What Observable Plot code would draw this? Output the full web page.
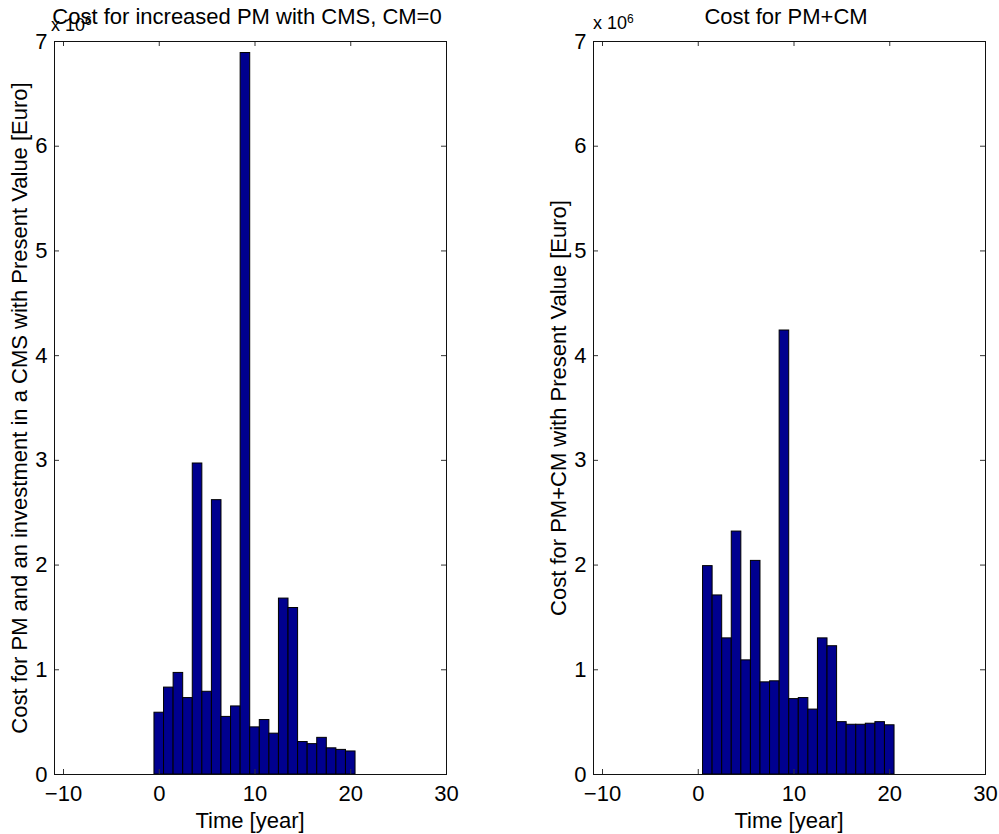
<!DOCTYPE html>
<html>
<head>
<meta charset="utf-8">
<script src="https://cdn.jsdelivr.net/npm/d3@7"></script>
<script src="https://cdn.jsdelivr.net/npm/@observablehq/plot@0.6"></script>
<style>
  html, body { margin: 0; padding: 0; background: #fff; }
  #wrap { position: relative; width: 999px; height: 834px; overflow: hidden; font-family: "Liberation Sans", Arial, sans-serif; color: #000; }
  .abs { position: absolute; white-space: nowrap; font-size: 22px; line-height: 1; }
  .plot { position: absolute; top: 0; }
</style>
</head>
<body>
<div id="wrap"></div>
<script>
// ---- data ----
const leftYears = [0,1,2,3,4,5,6,7,8,9,10,11,12,13,14,15,16,17,18,19,20];
const leftCost = [0.59e6,0.83e6,0.97e6,0.73e6,2.97e6,0.79e6,2.62e6,0.55e6,0.65e6,6.89e6,0.45e6,0.52e6,0.39e6,1.68e6,1.59e6,0.31e6,0.29e6,0.35e6,0.25e6,0.235e6,0.22e6];
const rightYears = [1,2,3,4,5,6,7,8,9,10,11,12,13,14,15,16,17,18,19,20];
const rightCost = [1.99e6,1.71e6,1.30e6,2.32e6,1.09e6,2.04e6,0.88e6,0.89e6,4.24e6,0.72e6,0.73e6,0.62e6,1.30e6,1.225e6,0.50e6,0.475e6,0.475e6,0.485e6,0.50e6,0.47e6];
const xTicks = [-10, 0, 10, 20, 30];
const yTicks = [0,1,2,3,4,5,6,7].map(v => v * 1e6);
const xDomain = [-10.94, 30];
const yDomain = [0, 7e6];
const titles = ["Cost for increased PM with CMS, CM=0", "Cost for PM+CM"];
const yLabels = ["Cost for PM and an investment in a CMS with Present Value [Euro]", "Cost for PM+CM with Present Value [Euro]"];
const xLabel = "Time [year]";

const barColor = "#00008f";
const M = {top: 41, bottom: 60, left: 54};
const frameW = 392, H = 834;
const frameH = H - M.top - M.bottom;
const tickLen = 5;
const FONT = '"Liberation Sans", Arial, sans-serif';

function panel(years, cost, svgLeft, marginRight) {
  const data = years.map((y, i) => ({year: y, cost: cost[i]}));
  const width = M.left + frameW + marginRight;
  const p = Plot.plot({
    width, height: H,
    marginTop: M.top, marginBottom: M.bottom, marginLeft: M.left, marginRight,
    style: {fontFamily: FONT, fontSize: "22px", color: "#000", background: "transparent", overflow: "visible"},
    x: {domain: xDomain, ticks: xTicks},
    y: {domain: yDomain, ticks: yTicks},
    marks: [
      Plot.rectY(data, {x1: d => d.year - 0.5, x2: d => d.year + 0.5, y: "cost", fill: barColor, stroke: "#000", strokeWidth: 1}),
      Plot.tickX(xTicks, {x: d => d, insetTop: frameH - tickLen, stroke: "#333"}),
      Plot.tickX(xTicks, {x: d => d, insetBottom: frameH - tickLen, stroke: "#333"}),
      Plot.tickY(yTicks, {y: d => d, insetRight: frameW - tickLen, stroke: "#333"}),
      Plot.tickY(yTicks, {y: d => d, insetLeft: frameW - tickLen, stroke: "#333"}),
      Plot.axisX(xTicks, {tickSize: 0, tickPadding: 11, label: null, fontSize: 22}),
      Plot.axisY(yTicks, {tickSize: 0, tickPadding: 7, label: null, fontSize: 22, tickFormat: d => String(d / 1e6)}),
      Plot.frame({stroke: "#111", strokeWidth: 1})
    ]
  });
  p.classList.add("plot");
  p.style.left = svgLeft + "px";
  return p;
}

const wrap = document.getElementById("wrap");
wrap.appendChild(panel(leftYears, leftCost, 0, 54));
wrap.appendChild(panel(rightYears, rightCost, 539, 14));

function addText(txt, css, html) {
  const d = document.createElement("div");
  d.className = "abs";
  if (html) d.innerHTML = txt; else d.textContent = txt;
  Object.assign(d.style, css);
  wrap.appendChild(d);
  return d;
}

[0, 539].forEach((off, i) => {
  const fx = off + M.left;
  const cx = fx + frameW / 2 - 3;
  // exponent
  addText('x 10<sup style="font-size:12px;position:relative;top:-1px;vertical-align:top;line-height:1">6</sup>',
    {left: (i === 0 ? fx - 3 : fx) + "px", top: (i === 0 ? 16 : 14) + "px", fontSize: "18px"}, true);
  // title
  addText(titles[i], {left: cx + "px", top: "6px", transform: "translateX(-50%)"});
  // x label
  addText(xLabel, {left: (fx + frameW / 2) + "px", top: "810px", transform: "translateX(-50%)"});
  // y label
  addText(yLabels[i], {left: (off + 20) + "px", top: (M.top + frameH / 2) + "px", transform: "translate(-50%, -50%) rotate(-90deg)"});
});
</script>
</body>
</html>
